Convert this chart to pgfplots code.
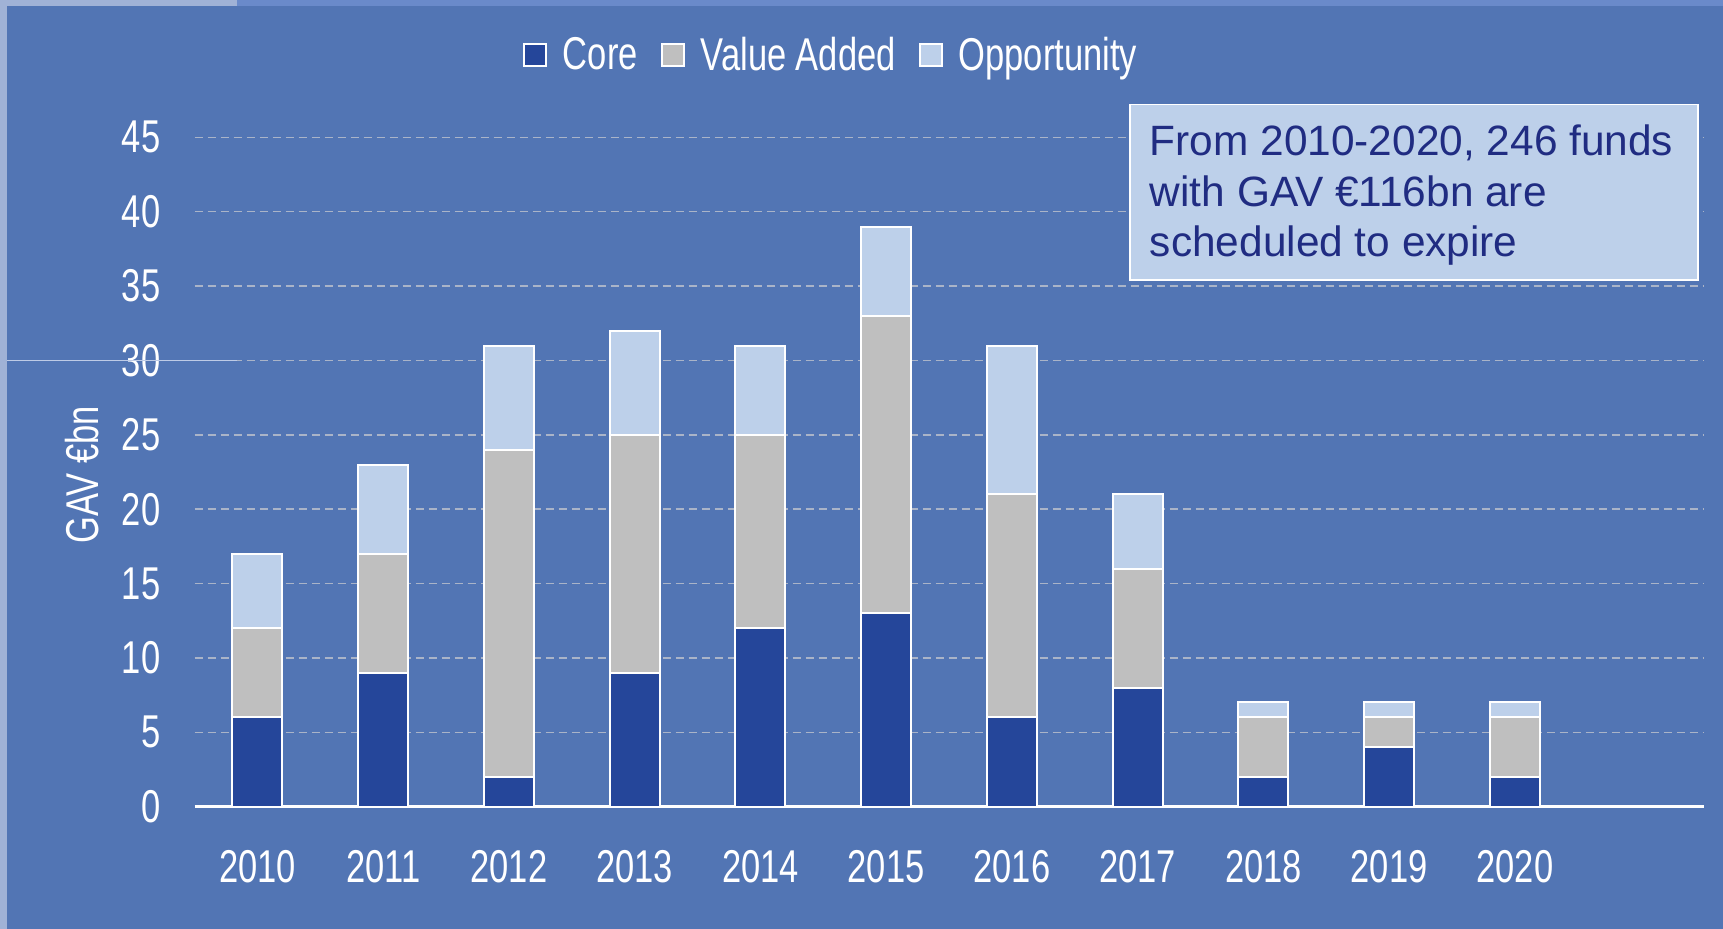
\documentclass[border=0pt]{standalone}
\usepackage{fontspec}
\setmainfont{Liberation Sans}
\newfontfamily\narrowfont[FakeStretch=0.75]{Liberation Sans}
\usepackage{pgfplots}
\pgfplotsset{compat=1.18}
\definecolor{bgblue}{RGB}{82,117,180}
\definecolor{coreblue}{RGB}{37,70,154}
\definecolor{vagray}{RGB}{191,191,191}
\definecolor{opplight}{RGB}{189,208,234}
\definecolor{stripe}{RGB}{160,178,214}
\definecolor{stripe2}{RGB}{106,138,202}
\definecolor{gridc}{RGB}{170,180,200}
\definecolor{navy}{RGB}{32,44,130}
\pgfplotsset{mylegend/.style={legend image code/.code={\draw[##1, draw=white, line width=1pt] (0pt,-5.5pt) rectangle (11pt,5.5pt); \path (17pt,0pt);}}}
\begin{document}
\begin{tikzpicture}
\fill[bgblue] (0,0) rectangle (861.5pt,464.5pt);
\fill[stripe2] (0,461.5pt) rectangle (861.5pt,464.5pt);
\fill[stripe] (0,461.5pt) rectangle (118.5pt,464.5pt);
\fill[stripe] (0,0) rectangle (3.6pt,464.5pt);
\begin{axis}[
  at={(97.25pt,61.2pt)}, anchor=south west,
  scale only axis, width=754.5pt, height=334.6pt,
  ybar stacked, bar width=25pt,
  xmin=-0.5, xmax=11.5, ymin=0, ymax=45,
  xtick={0,1,2,3,4,5,6,7,8,9,10},
  xticklabels={2010,2011,2012,2013,2014,2015,2016,2017,2018,2019,2020},
  ytick={0,5,10,15,20,25,30,35,40,45},
  axis x line*=bottom, axis y line*=left,
  y axis line style={draw=none},
  x axis line style={white, line width=1.1pt, -},
  major tick length=0pt, tick style={draw=none},
  ymajorgrids, grid style={gridc, dash pattern=on 4pt off 2.5pt, line width=0.7pt},
  tick label style={font=\narrowfont\fontsize{23}{23}\selectfont, text=white, inner sep=0pt},
  /pgf/number format/assume math mode=true,
  yticklabel style={anchor=east, xshift=-16.9pt},
  xticklabel style={anchor=center, yshift=-30pt},
  ylabel={GAV €bn},
  ylabel style={font=\narrowfont\fontsize{23}{23}\selectfont, text=white, at={(axis description cs:-0.0743,0.496)}, anchor=center},
  legend style={at={(axis description cs:0.4225,1.123)}, anchor=center, legend columns=3, draw=none, fill=none,
    font=\narrowfont\fontsize{23}{23}\selectfont, text=white,
    /tikz/every even column/.append style={column sep=9.5pt}},
  legend cell align=left,
]
\addplot[fill=coreblue, draw=white, line width=1pt, mylegend] coordinates {(0,6) (1,9) (2,2) (3,9) (4,12) (5,13) (6,6) (7,8) (8,2) (9,4) (10,2)};
\addplot[fill=vagray, draw=white, line width=1pt, mylegend] coordinates {(0,6) (1,8) (2,22) (3,16) (4,13) (5,20) (6,15) (7,8) (8,4) (9,2) (10,4)};
\addplot[fill=opplight, draw=white, line width=1pt, mylegend] coordinates {(0,5) (1,6) (2,7) (3,7) (4,6) (5,6) (6,10) (7,5) (8,1) (9,1) (10,1)};
\legend{Core, Value Added, Opportunity}
\end{axis}
\draw[draw={rgb,255:red,190;green,203;blue,230}, line width=0.5pt] (3.6pt,284.2pt) -- (118.5pt,284.2pt);
\fill[opplight, draw=white, line width=0.8pt] (564.9pt,324.4pt) rectangle (849pt,412.3pt);
\node[anchor=base west, inner sep=0pt, font=\fontsize{21.2}{25}\selectfont, text=navy] at (574.75pt,386.5pt) {From 2010-2020, 246 funds};
\node[anchor=base west, inner sep=0pt, font=\fontsize{21.2}{25}\selectfont, text=navy] at (574.75pt,361.2pt) {with GAV €116bn are};
\node[anchor=base west, inner sep=0pt, font=\fontsize{21.2}{25}\selectfont, text=navy] at (574.75pt,336.2pt) {scheduled to expire};
\pgfresetboundingbox
\path[use as bounding box] (0,0) rectangle (861.5pt,464.5pt);
\end{tikzpicture}
\end{document}
